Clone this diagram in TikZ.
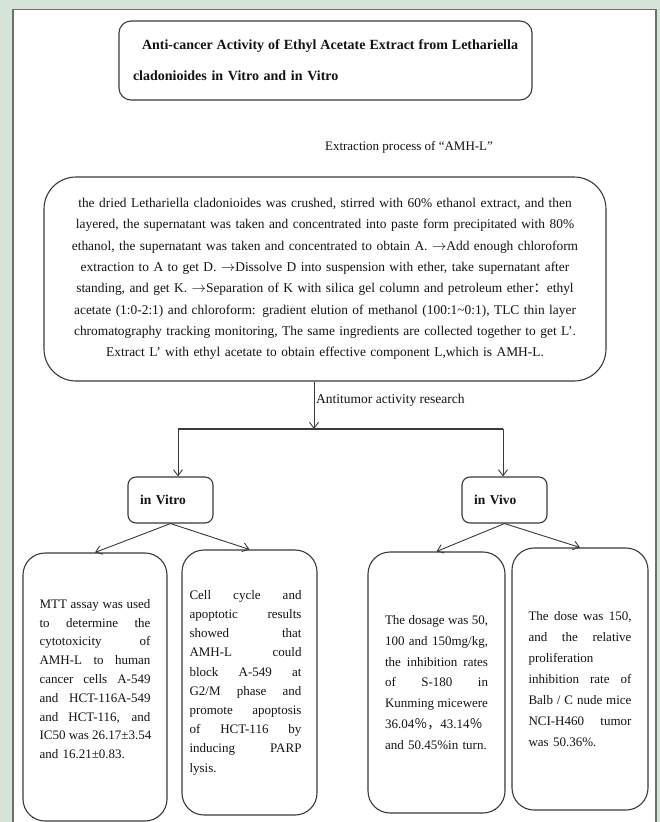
\documentclass[tikz,border=0pt]{standalone}
\usepackage{fontspec}
\setmainfont{Liberation Serif}
\newfontfamily\cjk{Noto Sans CJK SC}
\usetikzlibrary{arrows.meta,calc}
\definecolor{bggreen}{HTML}{D6E3D8}
\definecolor{ln}{HTML}{3A3A3A}
\definecolor{tx}{HTML}{141414}
\definecolor{panelline}{HTML}{6E6E6E}
\newcommand{\jl}[2]{\leavevmode\hbox to #1{\spaceskip=0.25em plus 1fil\xspaceskip=0.25em plus 1fil\relax #2}}
\newcommand{\ra}{\ensuremath{\rightarrow}}
\begin{document}
\begin{tikzpicture}[x=1pt,y=-1pt,
  box/.style={draw=ln,line width=1.1pt,fill=white,rounded corners=#1,inner sep=0pt,text=tx},
  box/.default=10pt,
  arr/.style={draw=ln,line width=0.9pt,-{Straight Barb[length=6pt,width=9pt]}},
  body/.style={font=\fontsize{13}{15}\selectfont,text=tx,inner sep=0pt}
]
\useasboundingbox (0,0) rectangle (660,822);
\fill[bggreen] (0,0) rectangle (660,822);
\draw[panelline,line width=1.3pt,fill=white] (13,9.5) rectangle (656,840);

% title
\node[box=12pt,minimum width=413pt,minimum height=79pt,text width=385pt,align=left,
      font=\fontsize{14}{31}\selectfont\bfseries] (title) at (325.5,60.5)
  {\jl{385pt}{\hspace{9pt}Anti-cancer Activity of Ethyl Acetate Extract from Lethariella}\\
   cladonioides in Vitro and in Vitro};

\node[body] (ext) at (409,147) {Extraction process of “AMH-L”};

% big box
\node[box=32pt,minimum width=562pt,minimum height=204pt,text width=545pt,align=center,
      font=\fontsize{13.4}{21.3}\selectfont] (big) at (325,279)
  {the dried Lethariella cladonioides was crushed, stirred with 60\% ethanol extract, and then\\
   layered, the supernatant was taken and concentrated into paste form precipitated with 80\%\\
   ethanol, the supernatant was taken and concentrated to obtain A. \ra Add enough chloroform\\
   extraction to A to get D. \ra Dissolve D into suspension with ether, take supernatant after\\
   standing, and get K. \ra Separation of K with silica gel column and petroleum ether{\cjk ：}ethyl\\
   acetate (1:0-2:1) and chloroform: gradient elution of methanol (100:1\textasciitilde 0:1), TLC thin layer\\
   chromatography tracking monitoring, The same ingredients are collected together to get L'.\\
   Extract L' with ethyl acetate to obtain effective component L,which is AMH-L.};

\coordinate (split) at (314,429);
\coordinate (barL) at (178,429);
\coordinate (barR) at (503,429);

\node[body,anchor=west,font=\fontsize{13.5}{15}\selectfont] (anti) at (316,400) {Antitumor activity research};

% in vitro / in vivo
\node[box=8pt,minimum width=85pt,minimum height=46pt,text width=61pt,align=left,
      font=\fontsize{13.5}{15}\selectfont\bfseries] (vitro) at (170.5,500) {in Vitro};
\node[box=8pt,minimum width=85pt,minimum height=46pt,text width=61pt,align=left,
      font=\fontsize{13.5}{15}\selectfont\bfseries] (vivo) at (504.5,500) {in Vivo};

% small boxes
\node[box=22pt,minimum width=144pt,minimum height=268pt,text width=111pt,align=left,
      font=\fontsize{13}{18.8}\selectfont] (A) at (95,687)
  {\jl{111pt}{MTT assay was used}\\
   \jl{111pt}{to determine the}\\
   \jl{111pt}{cytotoxicity of}\\
   \jl{111pt}{AMH-L to human}\\
   \jl{111pt}{cancer cells A-549}\\
   \jl{111pt}{and HCT-116A-549}\\
   \jl{111pt}{and HCT-116, and}\\
   \jl{111pt}{IC50 was 26.17±3.54}\\
   and 16.21±0.83.\par\vspace*{16pt}};

\node[box=22pt,minimum width=135pt,minimum height=265pt,text width=120pt,align=left,
      font=\fontsize{13}{19.2}\selectfont] (B) at (249.5,682.5)
  {\jl{112pt}{Cell cycle and}\\
   \jl{112pt}{apoptotic results}\\
   \jl{112pt}{showed that}\\
   \jl{112pt}{AMH-L could}\\
   \jl{112pt}{block A-549 at}\\
   \jl{112pt}{G2/M phase and}\\
   \jl{112pt}{promote apoptosis}\\
   \jl{112pt}{of HCT-116 by}\\
   \jl{112pt}{inducing PARP}\\
   lysis.};

\node[box=22pt,minimum width=137pt,minimum height=261pt,text width=103pt,align=left,
      font=\fontsize{13}{20.8}\selectfont] (C) at (436.5,682.5)
  {\jl{103pt}{The dosage was 50,}\\
   \jl{103pt}{100 and 150mg/kg,}\\
   \jl{103pt}{the inhibition rates}\\
   \jl{103pt}{of S-180 in}\\
   \jl{103pt}{Kunming micewere}\\
   36.04{\cjk ％，}43.14{\cjk ％}\\
   and 50.45\%in turn.};

\node[box=22pt,minimum width=136pt,minimum height=262pt,text width=103pt,align=left,
      font=\fontsize{13}{21}\selectfont] (D) at (580,679)
  {\jl{103pt}{The dose was 150,}\\
   \jl{103pt}{and the relative}\\
   proliferation\\
   \jl{103pt}{inhibition rate of}\\
   \jl{103pt}{Balb / C nude mice}\\
   \jl{103pt}{NCI-H460 tumor}\\
   was 50.36\%.};

% connectors
\draw[arr] (big.south -| split) -- (split);
\draw[ln,line width=2pt] (barL) -- (barR);
\draw[arr] (barL) -- (barL |- vitro.north);
\draw[arr] (barR) -- (barR |- vivo.north);
\draw[arr] (vitro.south) -- (A.north);
\draw[arr] (vitro.south) -- (B.north);
\draw[arr] (vivo.south) -- (C.north);
\draw[arr] (vivo.south) -- (D.north);
\end{tikzpicture}
\end{document}
